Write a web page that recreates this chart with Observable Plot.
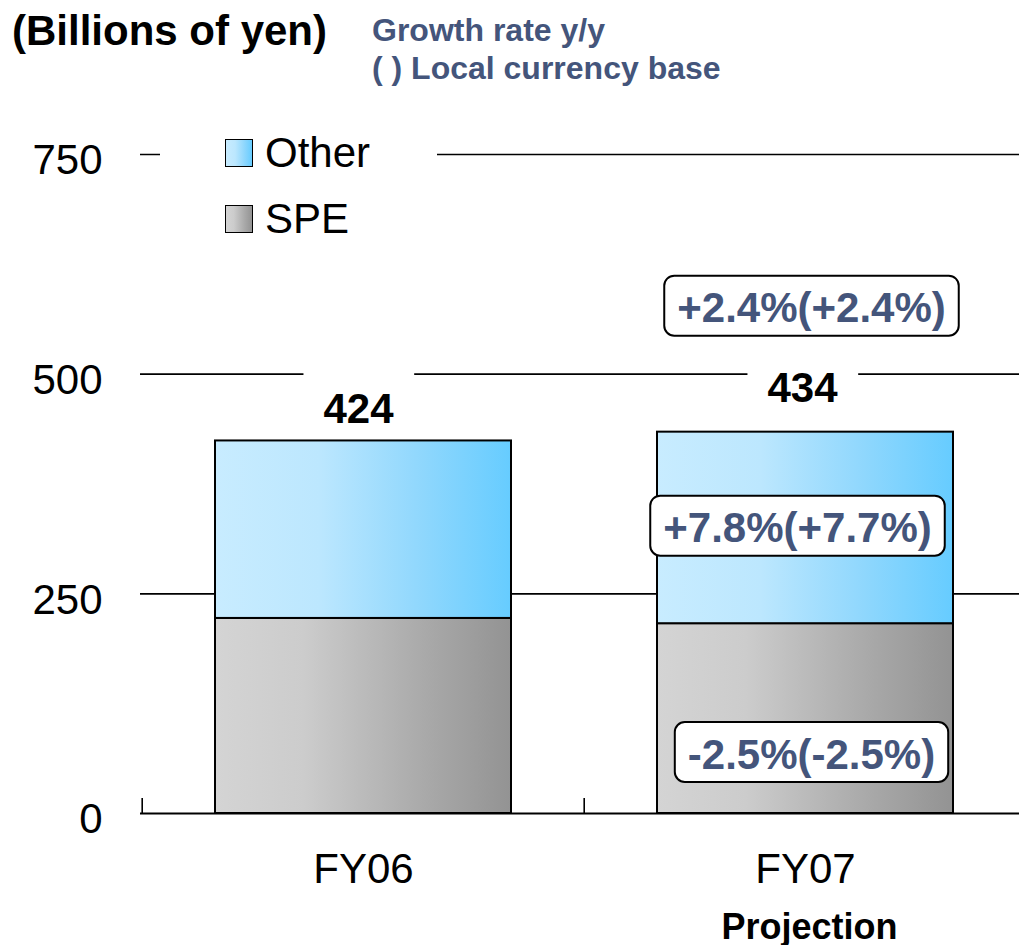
<!DOCTYPE html>
<html>
<head>
<meta charset="utf-8">
<script src="https://cdn.jsdelivr.net/npm/d3@7"></script>
<script src="https://cdn.jsdelivr.net/npm/@observablehq/plot@0.6"></script>
<style>
  html, body { margin: 0; padding: 0; background: #fff; }
  body { font-family: "Liberation Sans", Arial, sans-serif; }
  #wrap { position: relative; width: 1019px; height: 945px; overflow: hidden; }
  #header { position: relative; height: 95px; }
  .t { position: absolute; white-space: nowrap; line-height: 1; }
  #title { left: 12px; top: 9.5px; font-size: 42px; font-weight: bold; color: #000; }
  .sub { left: 372px; font-size: 32px; font-weight: bold; color: #44557B; }
  #legend { position: absolute; left: 160px; top: 128px; width: 277px; height: 118px; background: #fff; z-index: 2; }
  .sw { position: absolute; left: 65px; width: 28px; height: 28px; box-sizing: border-box; border: 1.5px solid #000; }
  .lt { position: absolute; left: 105px; font-size: 42px; line-height: 1; color: #000; white-space: nowrap; }
</style>
</head>
<body>
<div id="wrap">
  <div id="header">
    <div class="t" id="title"></div>
    <div class="t sub" id="sub1" style="top:14px"></div>
    <div class="t sub" id="sub2" style="top:52px"></div>
  </div>
  <div id="legend"></div>
  <div id="chart"></div>
</div>
<script>
// ---- data ----
const categories = ["FY06", "FY07"];
const seriesNames = ["SPE", "Other"];
const speValues = [222, 216];
const otherValues = [202, 218];
const totals = [424, 434];
const yTicks = [0, 250, 500, 750];
const growthTotalLabel = "+2.4%(+2.4%)";
const growthOtherLabel = "+7.8%(+7.7%)";
const growthSPELabel = "-2.5%(-2.5%)";
const projectionLabel = "Projection";
const titleText = "(Billions of yen)";
const subText1 = "Growth rate y/y";
const subText2 = "( ) Local currency base";
const legendOrder = ["Other", "SPE"];

// ---- tables ----
const rows = categories.flatMap((c, i) => [
  {year: c, series: "SPE", value: speValues[i]},
  {year: c, series: "Other", value: otherValues[i]}
]);
const totalRows = categories.map((c, i) => ({year: c, total: totals[i]}));
const fy07 = categories.length - 1;

const FONT = '"Liberation Sans", Arial, sans-serif';
const BLUE = "#44557B";

document.getElementById("title").textContent = titleText;
document.getElementById("sub1").textContent = subText1;
document.getElementById("sub2").textContent = subText2;

// legend
const gradCss = {
  Other: "linear-gradient(to right, #C8ECFF, #BCE7FE 35%, #8FD7FD 70%, #66CCFF)",
  SPE: "linear-gradient(to right, #D4D4D4, #CCCCCC 30%, #AAAAAA 70%, #939393)"
};
const legendPos = {Other: {sw: 11, tx: 3.5}, SPE: {sw: 77, tx: 69.5}};
const legend = document.getElementById("legend");
legendOrder.forEach(name => {
  const sw = document.createElement("div");
  sw.className = "sw";
  sw.style.top = legendPos[name].sw + "px";
  sw.style.background = gradCss[name];
  legend.appendChild(sw);
  const tx = document.createElement("div");
  tx.className = "lt";
  tx.style.top = legendPos[name].tx + "px";
  tx.textContent = name;
  legend.appendChild(tx);
});

const svg = Plot.plot({
  width: 1019,
  height: 850,
  marginLeft: 140,
  marginRight: 0,
  marginTop: 59,
  marginBottom: 132,
  style: {fontFamily: FONT, fontSize: "42px", background: "transparent", overflow: "visible", color: "#000"},
  x: {type: "band", domain: categories, range: [141, 1026], paddingInner: 0.331, paddingOuter: 0.165, label: null},
  y: {domain: [0, 750], range: [718, 59], label: null},
  color: {type: "ordinal", domain: seriesNames, range: ["url(#gSPE)", "url(#gOther)"]},
  marks: [
    Plot.ruleY(yTicks.filter(d => d > 0), {stroke: "#000", strokeWidth: 1.6}),
    Plot.barY(rows, Plot.stackY({x: "year", y: "value", fill: "series", stroke: "#000", strokeWidth: 2})),
    Plot.ruleY([0], {stroke: "#000", strokeWidth: 2}),
    Plot.ruleX(categories, {x: d => d, dx: -221.3, y1: 0, y2: 17, stroke: "#000", strokeWidth: 1.6}),
    Plot.axisY(yTicks, {tickSize: 0, tickPadding: 38, fontSize: 42, dy: 6.5, label: null}),
    Plot.axisX({tickSize: 0, tickPadding: 40, fontSize: 42, label: null}),
    Plot.text(totalRows.slice(0, 1), {x: "year", y: "total", text: d => String(d.total), fontWeight: "bold", fontSize: 42, lineAnchor: "bottom", dx: -5, dy: -18.4, fill: "#000"}),
    Plot.text(totalRows.slice(1), {x: "year", y: "total", text: d => String(d.total), fontWeight: "bold", fontSize: 42, lineAnchor: "bottom", dx: -3, dy: -29.7, fill: "#000"}),
    Plot.text([growthTotalLabel], {x: () => categories[fy07], y: () => totals[fy07], text: d => d, fontWeight: "bold", fontSize: 42, lineAnchor: "bottom", dx: 6, dy: -110, fill: BLUE}),
    Plot.text([growthOtherLabel], {x: () => categories[fy07], y: () => speValues[fy07] + otherValues[fy07] / 2, text: d => d, fontWeight: "bold", fontSize: 42, lineAnchor: "bottom", dx: -8, dy: 14.3, fill: BLUE}),
    Plot.text([growthSPELabel], {x: () => categories[fy07], y: () => 0, text: d => d, fontWeight: "bold", fontSize: 42, lineAnchor: "bottom", dx: 6, dy: -45, fill: BLUE}),
    Plot.text([projectionLabel], {x: () => categories[fy07], y: () => 0, text: d => d, fontWeight: "bold", fontSize: 36, lineAnchor: "bottom", dx: 4, dy: 125, fill: "#000"})
  ]
});

document.getElementById("chart").appendChild(svg);

const NS = "http://www.w3.org/2000/svg";
const defs = document.createElementNS(NS, "defs");
defs.innerHTML =
  '<linearGradient id="gOther" x1="0" x2="1" y1="0" y2="0">' +
  '<stop offset="0" stop-color="#C8ECFF"/><stop offset="0.35" stop-color="#BCE7FE"/>' +
  '<stop offset="0.7" stop-color="#8FD7FD"/><stop offset="1" stop-color="#66CCFF"/></linearGradient>' +
  '<linearGradient id="gSPE" x1="0" x2="1" y1="0" y2="0">' +
  '<stop offset="0" stop-color="#D4D4D4"/><stop offset="0.3" stop-color="#CCCCCC"/>' +
  '<stop offset="0.7" stop-color="#AAAAAA"/><stop offset="1" stop-color="#939393"/></linearGradient>';
svg.insertBefore(defs, svg.firstChild);

const growthSet = new Set([growthTotalLabel, growthOtherLabel, growthSPELabel]);
const totalSet = new Set(totals.map(String));
svg.querySelectorAll("text").forEach(t => {
  const s = t.textContent;
  let opts = null;
  if (growthSet.has(s)) opts = {px: 13, top: 8.5, bottom: 4.5, rx: 10, stroke: true};
  else if (totalSet.has(s)) opts = {px: 20, top: 26, bottom: 6, rx: 0, stroke: false};
  if (!opts) return;
  const bb = t.getBBox();
  const r = document.createElementNS(NS, "rect");
  r.setAttribute("x", bb.x - opts.px);
  r.setAttribute("y", bb.y - opts.top);
  r.setAttribute("width", bb.width + 2 * opts.px);
  r.setAttribute("height", bb.height + opts.top + opts.bottom);
  r.setAttribute("rx", opts.rx);
  r.setAttribute("fill", "#fff");
  if (opts.stroke) { r.setAttribute("stroke", "#000"); r.setAttribute("stroke-width", 2); }
  else r.setAttribute("stroke", "none");
  const tr = t.getAttribute("transform");
  if (tr) r.setAttribute("transform", tr);
  t.parentNode.insertBefore(r, t);
});
</script>
</body>
</html>
